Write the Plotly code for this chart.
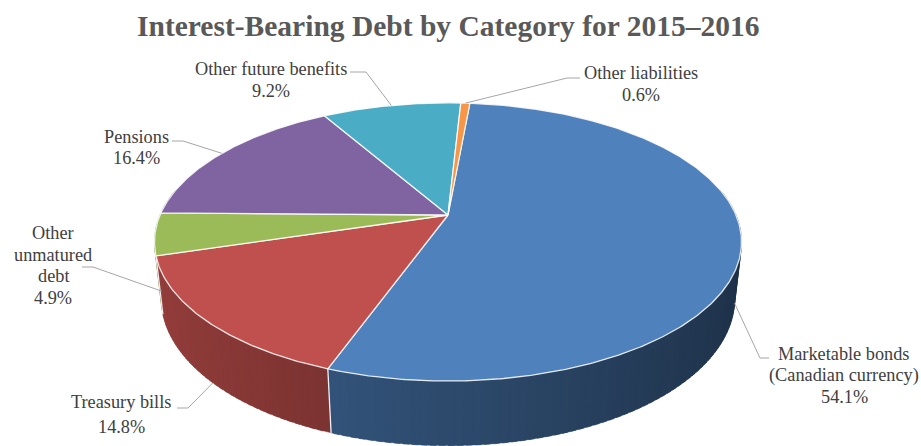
import numpy as np
import plotly.graph_objects as go

# ---- data -------------------------------------------------------------
categories = [
    "Marketable bonds (Canadian currency)",
    "Treasury bills",
    "Other unmatured debt",
    "Pensions",
    "Other future benefits",
    "Other liabilities",
]
shares = [54.1, 14.8, 4.9, 16.4, 9.2, 0.6]   # percent of interest-bearing debt
label_lines = [
    ["Marketable bonds", "(Canadian currency)"],
    ["Treasury bills"],
    ["Other", "unmatured", "debt"],
    ["Pensions"],
    ["Other future benefits"],
    ["Other liabilities"],
]
title_text = "Interest-Bearing Debt by Category for 2015–2016"

# ---- styling / layout ---------------------------------------------------
slice_colors = ["#4F81BD", "#C0504D", "#9BBB59", "#8064A2", "#4BACC6", "#F79646"]
W, H = 921, 446
CX, CY = 448.0, 215.0          # screen position of the pie centre
FOCAL, DIST = 1316.0, 4.57     # perspective camera
TILT = np.radians(27.7)        # elevation of the camera
THICK = 0.225                  # pie thickness (unit radius)
START = np.radians(5.2)        # first slice starts just right of 12 o'clock
SERIF = "Liberation Serif, Times New Roman, serif"
LABEL_SIZE = 18.3
LABEL_COLOR = "#404040"
LEADER_COLOR = "#A6A6A6"

# label text placement: centre x, centre y of first line, line pitch
label_pos = [
    (844, 354, 21.5),
    (121, 402, 25),
    (53, 233, 21.5),
    (136, 137, 21),
    (271, 69, 22),
    (641, 73, 22),
]
# leader start near the text and the elbow x
leader_text_end = [
    ((769, 358), 760),
    ((177, 408), 188),
    ((82, 267), 93),
    ((172, 141), 183),
    ((350, 72), 366),
    ((580, 78), 567),
]


def project(theta, z=0.0, r=1.0):
    """Perspective projection of a point on the pie (unit radius)."""
    X = r * np.cos(theta)
    Y = r * np.sin(theta)
    v = Y * np.sin(TILT) + z * np.cos(TILT)
    w = DIST + Y * np.cos(TILT) - z * np.sin(TILT)
    return CX + FOCAL * X / w, CY - FOCAL * v / w


def hex_rgb(h):
    h = h.lstrip("#")
    return np.array([int(h[i:i + 2], 16) for i in (0, 2, 4)], dtype=float)


def shade(hexcol, factor):
    r, g, b = np.clip(hex_rgb(hexcol) * factor, 0, 255).astype(int)
    return f"rgb({r},{g},{b})"


# slice boundary angles (clockwise from the start angle)
fractions = np.array(shares) / sum(shares)
cum = np.concatenate([[0.0], np.cumsum(fractions)])
theta0 = np.pi / 2 - START
bounds = theta0 - 2 * np.pi * cum

fig = go.Figure()

# ---- side wall: small shaded quads, drawn back to front -------------------
quads = []
lo_vis, hi_vis = -np.pi - 0.2, 0.2
overlap = np.radians(1.0)
for i in range(len(shares)):
    a0, a1 = bounds[i], bounds[i + 1]       # a0 > a1
    s, e = min(a0, hi_vis), max(a1, lo_vis)
    if s <= e:
        continue
    n = max(2, int(np.ceil((s - e) / np.radians(1.5))))
    ts = np.linspace(s, e, n + 1)
    for k in range(n):
        t_a = ts[k]
        t_b = max(ts[k + 1] - overlap, e) if k < n - 1 else ts[k + 1]
        tm = 0.5 * (ts[k] + ts[k + 1])
        arc = np.linspace(t_a, t_b, 4)
        xa, ya = project(arc, 0.0)
        xb, yb = project(arc[::-1], -THICK)
        fac = float(np.clip(0.58 - 0.2 * np.cos(tm), 0.3, 0.85))
        quads.append((np.sin(tm), list(xa) + list(xb) + [xa[0]],
                      list(ya) + list(yb) + [ya[0]], shade(slice_colors[i], fac)))

quads.sort(key=lambda q: -q[0])
for _, xs, ys, col in quads:
    fig.add_trace(go.Scatter(x=xs, y=ys, mode="lines", fill="toself",
                             fillcolor=col, line=dict(color=col, width=0.4),
                             hoverinfo="skip", showlegend=False))

# white seams where slices meet on the visible wall
for b in bounds:
    t = (b + np.pi) % (2 * np.pi) - np.pi
    if np.sin(t) < -0.2:
        xt, yt = project(t, 0.0)
        xb, yb = project(t, -THICK)
        fig.add_trace(go.Scatter(x=[xt, xb], y=[yt, yb], mode="lines",
                                 line=dict(color="rgba(255,255,255,0.9)", width=1.3),
                                 hoverinfo="skip", showlegend=False))

# ---- top face ------------------------------------------------------------
for i, cat in enumerate(categories):
    a0, a1 = bounds[i], bounds[i + 1]
    n = max(3, int(np.ceil((a0 - a1) / np.radians(0.5))))
    ts = np.linspace(a0, a1, n + 1)
    xs, ys = project(ts, 0.0)
    px = [CX] + list(xs) + [CX]
    py = [CY] + list(ys) + [CY]
    fig.add_trace(go.Scatter(x=px, y=py, mode="lines", fill="toself",
                             fillcolor=slice_colors[i],
                             line=dict(color="rgba(255,255,255,0.85)", width=1.3),
                             name=cat, hoverinfo="name", showlegend=False))

# ---- data labels with leader lines ----------------------------------------
for i, lines in enumerate(label_lines):
    mid = 0.5 * (bounds[i] + bounds[i + 1])
    depth = -THICK if np.sin(mid) < 0 else 0.0
    ax, ay = project(mid, depth)
    (sx, sy), ex = leader_text_end[i]
    fig.add_trace(go.Scatter(x=[sx, ex, ax], y=[sy, sy, ay], mode="lines",
                             line=dict(color=LEADER_COLOR, width=1),
                             hoverinfo="skip", showlegend=False))
    cx, cy, pitch = label_pos[i]
    texts = lines + [f"{shares[i]:.1f}%"]
    for j, t in enumerate(texts):
        fig.add_annotation(x=cx, y=cy + j * pitch, text=t, showarrow=False,
                           xanchor="center", yanchor="middle",
                           font=dict(family=SERIF, size=LABEL_SIZE, color=LABEL_COLOR))

fig.add_annotation(x=448, y=26, text=f"<b>{title_text}</b>", showarrow=False,
                   xanchor="center", yanchor="middle",
                   font=dict(family=SERIF, size=29.5, color="#595959"))

fig.update_layout(
    width=W, height=H,
    margin=dict(l=0, r=0, t=0, b=0),
    paper_bgcolor="white", plot_bgcolor="white",
    xaxis=dict(range=[0, W], visible=False, fixedrange=True),
    yaxis=dict(range=[H, 0], visible=False, fixedrange=True),
    showlegend=False,
)

fig.write_html("out.html")
